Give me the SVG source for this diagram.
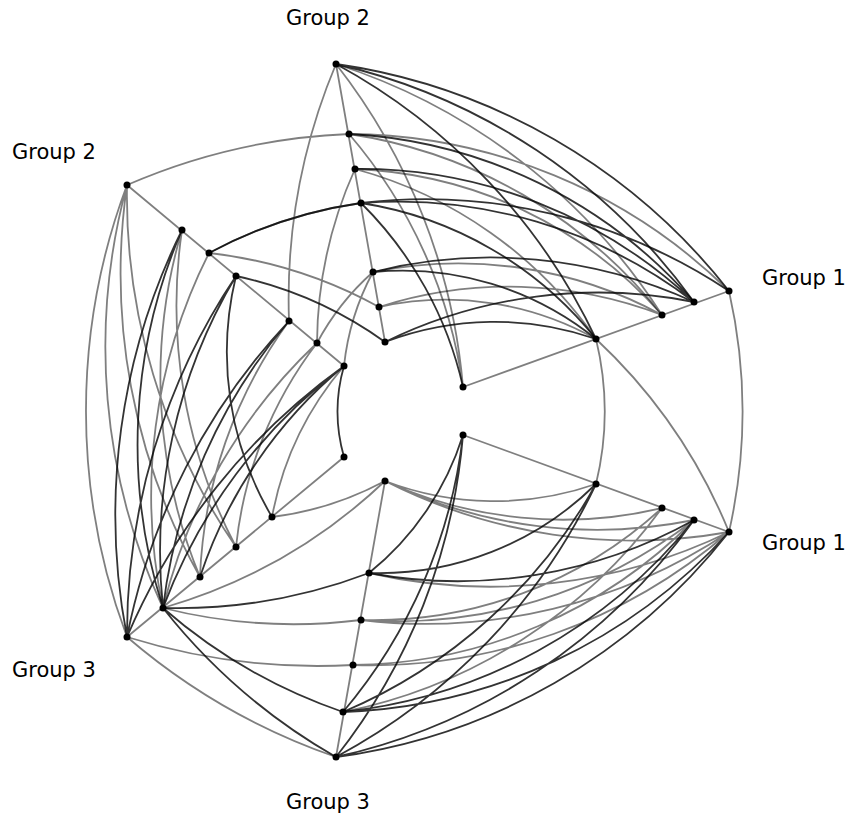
<svg xmlns="http://www.w3.org/2000/svg" width="860" height="823" viewBox="0 0 860 823">
<style>
.e{fill:none;stroke:#000;stroke-width:1.8;stroke-opacity:.5}
.d{fill:none;stroke:#000;stroke-width:1.8;stroke-opacity:.8}
.n{fill:#000}
text{font-family:"DejaVu Sans",sans-serif;font-size:21px;fill:#000}
</style>
<rect width="860" height="823" fill="#fff"/>
<g id="connectors">
<path class="e" d="M463,387L729,291M463,435L729,532M385,342L336,64M344,366L127,185M344,457L127,637M385,481L336,757"/>
<path class="d" d="M336,64A609,609 0 0 1 729,291M336,64A609,609 0 0 1 694,302M336,64A609,609 0 0 1 596,339"/>
<path class="e" d="M336,64A609,609 0 0 1 662,315M336,64A609,609 0 0 1 463,387M349,134A547,547 0 0 1 729,291M349,134A491,491 0 0 1 662,315M349,134A491,491 0 0 1 463,387"/>
<path class="d" d="M349,134A491,491 0 0 1 694,302M355,169A486,486 0 0 1 694,302M361,203A486,486 0 0 1 694,302M361,203A547,547 0 0 1 729,291M361,203A374,374 0 0 1 596,339M361,203A374,374 0 0 1 463,387"/>
<path class="e" d="M355,169A430,430 0 0 1 662,315M355,169A430,430 0 0 1 596,339M373,272A427,427 0 0 1 662,315M379,307A427,427 0 0 1 662,315M379,307A308,308 0 0 1 596,339"/>
<path class="d" d="M373,272A486,486 0 0 1 694,302M373,272A308,308 0 0 1 596,339M385,342A486,486 0 0 1 694,302M385,342A308,308 0 0 1 596,339"/>
<path class="e" d="M729,291A547,547 0 0 1 729,532M596,339A308,308 0 0 1 596,484M596,339A547,547 0 0 1 729,532"/>
<path class="d" d="M729,532A600,600 0 0 1 336,757M729,532A547,547 0 0 1 343,712M694,520A600,600 0 0 1 336,757M694,520A522,522 0 0 1 343,712M694,520A486,486 0 0 1 369,573M596,484A522,522 0 0 1 343,712M596,484A308,308 0 0 1 369,573M596,484A600,600 0 0 1 336,757M463,435A522,522 0 0 1 343,712M463,435A600,600 0 0 1 336,757M463,435A287,287 0 0 1 369,573"/>
<path class="e" d="M729,532A547,547 0 0 1 353,665M729,532A547,547 0 0 1 361,620M729,532A547,547 0 0 1 369,573M729,532A547,547 0 0 1 385,481M694,520A486,486 0 0 1 353,665M694,520A486,486 0 0 1 385,481M662,508A522,522 0 0 1 343,712M662,508A427,427 0 0 1 361,620M662,508A427,427 0 0 1 385,481M596,484A308,308 0 0 1 385,481M694,520A486,486 0 0 1 361,620"/>
<path class="d" d="M336,757A600,600 0 0 1 163,608M343,712A539,539 0 0 1 163,608M369,573A539,539 0 0 1 163,608"/>
<path class="e" d="M353,665A643,643 0 0 1 127,637M361,620A539,539 0 0 1 163,608M385,481A323,323 0 0 1 272,517M385,481A539,539 0 0 1 163,608M336,757A643,643 0 0 1 127,637"/>
<path class="d" d="M163,608A539,539 0 0 1 236,276M163,608A539,539 0 0 1 289,321M163,608A539,539 0 0 1 344,366M163,608A539,539 0 0 1 182,230M127,637A643,643 0 0 1 236,276M127,637A643,643 0 0 1 289,321M127,637A643,643 0 0 1 344,366M127,637A643,643 0 0 1 182,230M200,577A464,464 0 0 1 344,366M272,517A323,323 0 0 1 236,276M344,457A165,165 0 0 1 344,366"/>
<path class="e" d="M163,608A539,539 0 0 1 317,343M163,608A539,539 0 0 1 209,253M127,637A643,643 0 0 1 127,185M200,577A464,464 0 0 1 289,321M200,577A519,519 0 0 1 182,230M200,577A619,619 0 0 1 127,185M236,547A619,619 0 0 1 127,185M236,547A519,519 0 0 1 182,230M272,517A323,323 0 0 1 344,366M163,608A619,619 0 0 1 127,185M236,547A403,403 0 0 1 317,343"/>
<path class="e" d="M127,185A619,619 0 0 1 349,134M209,253A459,459 0 0 1 361,203M289,321A609,609 0 0 1 336,64M317,343A430,430 0 0 1 355,169M317,343A255,255 0 0 1 373,272M209,253A459,459 0 0 1 379,307M344,366A255,255 0 0 1 373,272"/>
<path class="d" d="M209,253A459,459 0 0 1 361,203M236,276A400,400 0 0 1 385,342"/>
</g>
<g id="nodes" class="n">
<circle cx="463" cy="387" r="3.5"/><circle cx="596" cy="339" r="3.5"/><circle cx="662" cy="315" r="3.5"/><circle cx="694" cy="302" r="3.5"/><circle cx="729" cy="291" r="3.5"/>
<circle cx="463" cy="435" r="3.5"/><circle cx="596" cy="484" r="3.5"/><circle cx="662" cy="508" r="3.5"/><circle cx="694" cy="520" r="3.5"/><circle cx="729" cy="532" r="3.5"/>
<circle cx="385" cy="342" r="3.5"/><circle cx="379" cy="307" r="3.5"/><circle cx="373" cy="272" r="3.5"/><circle cx="361" cy="203" r="3.5"/><circle cx="355" cy="169" r="3.5"/><circle cx="349" cy="134" r="3.5"/><circle cx="336" cy="64" r="3.5"/>
<circle cx="344" cy="366" r="3.5"/><circle cx="317" cy="343" r="3.5"/><circle cx="289" cy="321" r="3.5"/><circle cx="236" cy="276" r="3.5"/><circle cx="209" cy="253" r="3.5"/><circle cx="182" cy="230" r="3.5"/><circle cx="127" cy="185" r="3.5"/>
<circle cx="344" cy="457" r="3.5"/><circle cx="272" cy="517" r="3.5"/><circle cx="236" cy="547" r="3.5"/><circle cx="200" cy="577" r="3.5"/><circle cx="163" cy="608" r="3.5"/><circle cx="127" cy="637" r="3.5"/>
<circle cx="385" cy="481" r="3.5"/><circle cx="369" cy="573" r="3.5"/><circle cx="361" cy="620" r="3.5"/><circle cx="353" cy="665" r="3.5"/><circle cx="343" cy="712" r="3.5"/><circle cx="336" cy="757" r="3.5"/>
</g>
<g id="labels">
<text x="762" y="285">Group 1</text>
<text x="762" y="550">Group 1</text>
<text x="286" y="25">Group 2</text>
<text x="12" y="159">Group 2</text>
<text x="12" y="677">Group 3</text>
<text x="286" y="809">Group 3</text>
</g>
</svg>
